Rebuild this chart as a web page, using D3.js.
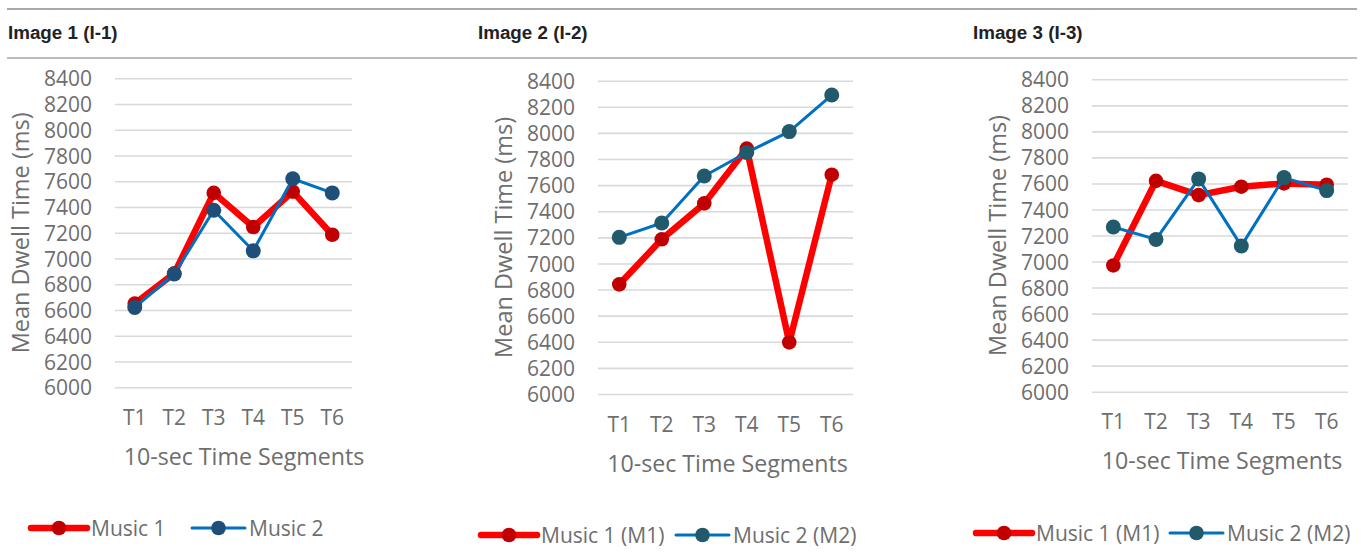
<!DOCTYPE html>
<html>
<head>
<meta charset="utf-8">
<script src="https://cdn.jsdelivr.net/npm/d3@7"></script>
<style>
  html, body { margin: 0; padding: 0; background: #ffffff; }
  svg { display: block; }
</style>
</head>
<body>
<svg id="chart" width="1371" height="558"></svg>
<script>
// ---- data ----
const categories = ["T1", "T2", "T3", "T4", "T5", "T6"];
const yTickValues = [6000, 6200, 6400, 6600, 6800, 7000, 7200, 7400, 7600, 7800, 8000, 8200, 8400];
const panelTitles = ["Image 1 (I-1)", "Image 2 (I-2)", "Image 3 (I-3)"];
const yAxisTitle = "Mean Dwell Time (ms)";
const xAxisTitle = "10-sec Time Segments";
const legendLabelsI1 = ["Music 1", "Music 2"];
const legendLabelsI23 = ["Music 1 (M1)", "Music 2 (M2)"];

const music1I1 = [6650, 6885, 7510, 7245, 7520, 7185];
const music2I1 = [6620, 6880, 7375, 7060, 7620, 7510];
const music1I2 = [6840, 7185, 7460, 7880, 6395, 7680];
const music2I2 = [7200, 7310, 7670, 7850, 8010, 8290];
const music1I3 = [6970, 7620, 7510, 7575, 7600, 7590];
const music2I3 = [7265, 7170, 7635, 7120, 7645, 7545];

// ---- layout (positions/styles only) ----
const panels = [
  { title: panelTitles[0], titleX: 8, x0: 115, x1: 352, yTop: 78.3, yBot: 387.3, xTitleX: 244,
    s1: music1I1, s2: music2I1, legend: legendLabelsI1, legY: 528, leg1: 31, leg2: 192, m2color: "#1f4e79" },
  { title: panelTitles[1], titleX: 478, x0: 598, x1: 853, yTop: 80.7, yBot: 394, xTitleX: 727.5,
    s1: music1I2, s2: music2I2, legend: legendLabelsI23, legY: 535, leg1: 481, leg2: 676, m2color: "#215a6b" },
  { title: panelTitles[2], titleX: 973, x0: 1092, x1: 1348, yTop: 79.3, yBot: 391.7, xTitleX: 1222,
    s1: music1I3, s2: music2I3, legend: legendLabelsI23, legY: 533, leg1: 976, leg2: 1170, m2color: "#215a6b" }
];

const FONT = "'Open Sans', 'Liberation Sans', sans-serif";
const TEXT_GREY = "#6e6e6e";
const RED = "#ff0000", RED_MARK = "#c00000", BLUE = "#0070c0";

const svg = d3.select("#chart");

// header rules
svg.append("line").attr("x1", 7).attr("x2", 1357).attr("y1", 9).attr("y2", 9)
  .attr("stroke", "#8c8c8c").attr("stroke-width", 1.5);
svg.append("line").attr("x1", 7).attr("x2", 1357).attr("y1", 58).attr("y2", 58)
  .attr("stroke", "#a6a6a6").attr("stroke-width", 1.5);

panels.forEach(p => {
  const g = svg.append("g");

  g.append("text").attr("x", p.titleX).attr("y", 38.5)
    .attr("font-family", "'Liberation Sans', Arial, sans-serif").attr("font-weight", "bold")
    .attr("font-size", 18.8).attr("fill", "#222").text(p.title);

  const x = d3.scaleBand().domain(categories).range([p.x0, p.x1]);
  const y = d3.scaleLinear().domain([6000, 8400]).range([p.yBot, p.yTop]);

  // gridlines
  const yAxis = d3.axisLeft(y).tickValues(yTickValues).tickSize(-(p.x1 - p.x0)).tickPadding(23).tickFormat(d3.format("d"));
  const ya = g.append("g").attr("transform", `translate(${p.x0},0)`).call(yAxis);
  ya.select(".domain").remove();
  ya.selectAll(".tick line").attr("stroke", "#d9d9d9").attr("stroke-width", 1.6);
  ya.selectAll(".tick text").attr("font-family", FONT).attr("font-size", 21)
    .attr("fill", TEXT_GREY).attr("dy", "0.36em");

  // x axis labels
  const xAxis = d3.axisBottom(x).tickSize(0).tickPadding(0);
  const xa = g.append("g").attr("transform", `translate(0,${p.yBot})`).call(xAxis);
  xa.select(".domain").remove();
  xa.selectAll(".tick text").attr("font-family", FONT).attr("font-size", 21)
    .attr("fill", TEXT_GREY).attr("dy", null).attr("y", 37.5);

  // axis titles
  g.append("text").attr("transform", `translate(${p.x0 - 86},${(p.yTop + p.yBot) / 2}) rotate(-90)`)
    .attr("text-anchor", "middle").attr("font-family", FONT).attr("font-size", 23.5)
    .attr("fill", TEXT_GREY).text(yAxisTitle);
  g.append("text").attr("x", p.xTitleX).attr("y", p.yBot + 77.5)
    .attr("text-anchor", "middle").attr("font-family", FONT).attr("font-size", 23.2)
    .attr("fill", TEXT_GREY).text(xAxisTitle);

  const cx = d => x(d) + x.bandwidth() / 2;
  const line = d3.line().x((d, i) => cx(categories[i])).y(d => y(d));

  // Music 1 (red, thick)
  g.append("path").datum(p.s1).attr("d", line).attr("fill", "none")
    .attr("stroke", RED).attr("stroke-width", 6.5).attr("stroke-linejoin", "round");
  g.selectAll(".m1").data(p.s1).enter().append("circle")
    .attr("cx", (d, i) => cx(categories[i])).attr("cy", d => y(d)).attr("r", 7.3)
    .attr("fill", RED_MARK);

  // Music 2 (blue, thin)
  g.append("path").datum(p.s2).attr("d", line).attr("fill", "none")
    .attr("stroke", BLUE).attr("stroke-width", 3).attr("stroke-linejoin", "round");
  g.selectAll(".m2").data(p.s2).enter().append("circle")
    .attr("cx", (d, i) => cx(categories[i])).attr("cy", d => y(d)).attr("r", 7.5)
    .attr("fill", p.m2color);

  // legend
  const lg = g.append("g");
  const items = [
    { x: p.leg1, w: 56, stroke: RED, sw: 6.5, mark: RED_MARK, label: p.legend[0] },
    { x: p.leg2, w: 53, stroke: BLUE, sw: 3, mark: p.m2color, label: p.legend[1] }
  ];
  items.forEach(it => {
    lg.append("line").attr("x1", it.x).attr("x2", it.x + it.w).attr("y1", p.legY).attr("y2", p.legY)
      .attr("stroke", it.stroke).attr("stroke-width", it.sw).attr("stroke-linecap", "round");
    lg.append("circle").attr("cx", it.x + it.w / 2).attr("cy", p.legY).attr("r", 7.3).attr("fill", it.mark);
    lg.append("text").attr("x", it.x + it.w + 4).attr("y", p.legY).attr("dy", "0.36em")
      .attr("font-family", FONT).attr("font-size", 21).attr("fill", TEXT_GREY).text(it.label);
  });
});
</script>
</body>
</html>
